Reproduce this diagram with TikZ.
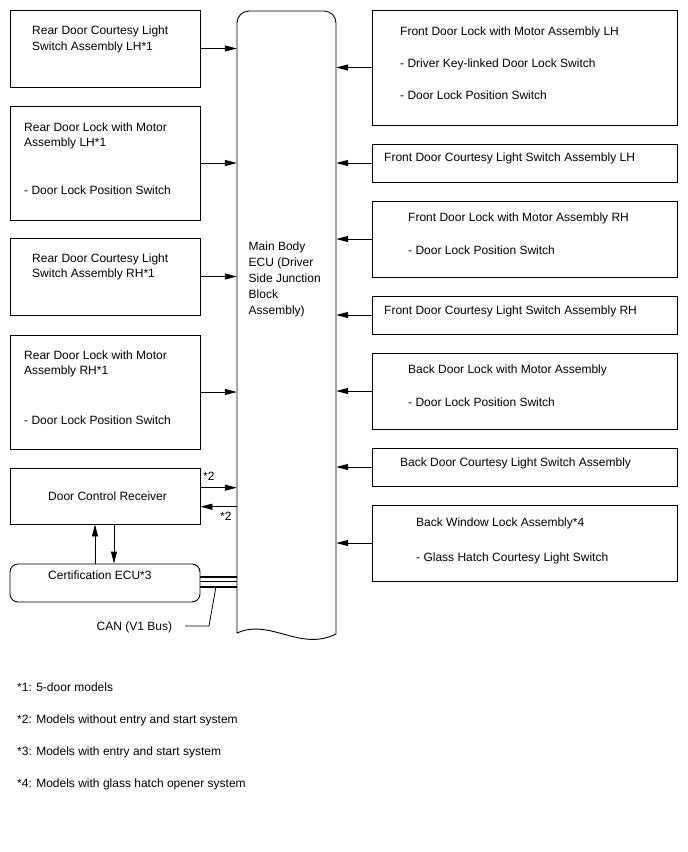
\documentclass[tikz,border=0pt]{standalone}
\usepackage{fontspec}
\setmainfont{Liberation Sans}
\usetikzlibrary{arrows.meta}
\begin{document}
\begin{tikzpicture}[x=1pt,y=-1pt,
  box/.style={draw,line width=0.9pt,inner sep=0pt,minimum width=190pt},
  rbox/.style={draw,line width=0.9pt,inner sep=0pt,minimum width=305pt},
  txt/.style={anchor=base west,inner sep=0pt,font=\fontsize{12}{15}\selectfont},
  arr/.style={line width=0.9pt,-{Triangle[length=12pt,width=6pt]}},
  can/.style={line width=2pt},
  lead/.style={line width=0.8pt}]
\useasboundingbox (0,0) rectangle (688,852);
\fill[white] (0,0) rectangle (688,852);

% Main Body ECU
\node[inner sep=0pt,minimum width=99pt,minimum height=622pt] (ecu) at (286.5,322) {};
\draw[line width=0.9pt] (237,633) -- (237,23) arc[start angle=180,end angle=90,radius=12pt]
  -- (324,11) arc[start angle=90,end angle=0,radius=12pt]
  -- (336,634) .. controls (300,652) and (270,618) .. (237,633) -- cycle;
\node[txt] (e1) at (248.5,250.5) {Main Body};
\node[txt] (e2) at (248.5,266.5) {ECU (Driver};
\node[txt] (e3) at (248.5,282.5) {Side Junction};
\node[txt] (e4) at (248.5,298.5) {Block};
\node[txt] (e5) at (248.5,314.5) {Assembly)};

% Left boxes
\node[box,minimum height=77pt] (L1) at (105,48.5) {};
\node[txt] (l1a) at (32,34) {Rear Door Courtesy Light};
\node[txt] (l1b) at (32,50) {Switch Assembly LH*1};

\node[box,minimum height=114pt] (L2) at (105,163) {};
\node[txt] (l2a) at (24,131) {Rear Door Lock with Motor};
\node[txt] (l2b) at (24,146) {Assembly LH*1};
\node[txt] (l2c) at (24,194.5) {- Door Lock Position Switch};

\node[box,minimum height=77pt] (L3) at (105,276.5) {};
\node[txt] (l3a) at (32,262) {Rear Door Courtesy Light};
\node[txt] (l3b) at (32,277.5) {Switch Assembly RH*1};

\node[box,minimum height=114pt] (L4) at (105,392) {};
\node[txt] (l4a) at (24,359) {Rear Door Lock with Motor};
\node[txt] (l4b) at (24,374.5) {Assembly RH*1};
\node[txt] (l4c) at (24,424) {- Door Lock Position Switch};

\node[box,minimum height=56pt] (DCR) at (105,496) {};
\node[txt] (dcrt) at (48,500.5) {Door Control Receiver};

\node[box,minimum height=38pt,rounded corners=8pt] (CERT) at (105,583) {};
\node[txt] (certt) at (48,579) {Certification ECU*3};

% Right boxes
\node[rbox,minimum height=115pt] (R1) at (524.5,67.5) {};
\node[txt] (r1a) at (400,35.5) {Front Door Lock with Motor Assembly LH};
\node[txt] (r1b) at (400,67.5) {- Driver Key-linked Door Lock Switch};
\node[txt] (r1c) at (400,99.5) {- Door Lock Position Switch};

\node[rbox,minimum height=38pt] (R2) at (524.5,163) {};
\node[txt] (r2a) at (384,161) {Front Door Courtesy Light Switch Assembly LH};

\node[rbox,minimum height=76pt] (R3) at (524.5,239) {};
\node[txt] (r3a) at (408,221) {Front Door Lock with Motor Assembly RH};
\node[txt] (r3b) at (408,254) {- Door Lock Position Switch};

\node[rbox,minimum height=38pt] (R4) at (524.5,315) {};
\node[txt] (r4a) at (384,314) {Front Door Courtesy Light Switch Assembly RH};

\node[rbox,minimum height=76pt] (R5) at (524.5,391) {};
\node[txt] (r5a) at (408,373) {Back Door Lock with Motor Assembly};
\node[txt] (r5b) at (408,406) {- Door Lock Position Switch};

\node[rbox,minimum height=38pt] (R6) at (524.5,467) {};
\node[txt] (r6a) at (400,466) {Back Door Courtesy Light Switch Assembly};

\node[rbox,minimum height=76pt] (R7) at (524.5,543) {};
\node[txt] (r7a) at (416,526) {Back Window Lock Assembly*4};
\node[txt] (r7b) at (416,561) {- Glass Hatch Courtesy Light Switch};

% Arrows left -> ECU
\foreach \n in {L1,L2,L3,L4}
  \draw[arr] (\n.east) -- (\n.east -| ecu.west);
% Arrows right -> ECU
\foreach \n in {R1,R2,R3,R4,R5,R6,R7}
  \draw[arr] (\n.west) -- (\n.west -| ecu.east);

% Door Control Receiver <-> ECU
\coordinate (d1) at (200,487.7);
\coordinate (d2) at (200,506.7);
\draw[arr] (DCR.east |- d1) -- (ecu.west |- d1);
\draw[arr] (ecu.west |- d2) -- (DCR.east |- d2);
\node[txt] (s2a) at (203,480.5) {*2};
\node[txt] (s2b) at (220,520.5) {*2};

% DCR <-> Certification
\coordinate (u1) at (95,0);
\coordinate (u2) at (114,0);
\draw[arr] (CERT.north -| u1) -- (DCR.south -| u1);
\draw[arr] (DCR.south -| u2) -- (CERT.north -| u2);

% CAN bus
\coordinate (c1) at (0,577);
\coordinate (c2) at (0,581.5);
\coordinate (c3) at (0,586.5);
\draw[can] (CERT.east |- c1) -- (ecu.west |- c1);
\draw[line width=0.8pt] (CERT.east |- c2) -- (ecu.west |- c2);
\draw[can] (CERT.east |- c3) -- (ecu.west |- c3);
\node[txt] (cant) at (96.5,630) {CAN (V1 Bus)};
\coordinate (k0) at (185,626);
\coordinate (k1) at (209,626);
\coordinate (k2) at (216,586.5);
\draw[lead] (k0) -- (k1) -- (k2);

% Footnotes
\node[txt] (f1) at (17,691) {*1: 5-door models};
\node[txt] (f2) at (17,723) {*2: Models without entry and start system};
\node[txt] (f3) at (17,755) {*3: Models with entry and start system};
\node[txt] (f4) at (17,787) {*4: Models with glass hatch opener system};
\end{tikzpicture}
\end{document}
